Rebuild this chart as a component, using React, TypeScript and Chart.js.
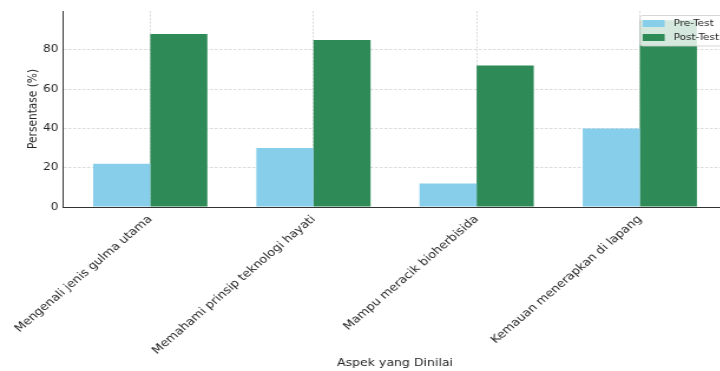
import React, { useEffect, useRef } from "react";
import { Chart, registerables } from "chart.js";

Chart.register(...registerables);

const categories = [
  "Mengenali jenis gulma utama",
  "Memahami prinsip teknologi hayati",
  "Mampu meracik bioherbisida",
  "Kemauan menerapkan di lapang",
];
const preTest = [22, 30, 12, 40];
const postTest = [88, 85, 72, 95];
const yTicks = [0, 20, 40, 60, 80];
const seriesNames = ["Pre-Test", "Post-Test"];
const seriesColors = ["#87CEEB", "#2E8B57"];

const FONT = "'DejaVu Sans', sans-serif";
const TEXT = "#262626";
// the reference picture is stretched horizontally; draw on a narrower canvas and stretch it
const SX = 1.18;
const CW = 630;
const CH = 371;

const legendPlugin = {
  id: "mplLegend",
  afterDraw(chart: any) {
    const ctx = chart.ctx;
    const left = 640.5 / SX;
    const top = 15.5;
    const right = 724 / SX;
    const bottom = 46;
    ctx.save();
    ctx.beginPath();
    const r = 2;
    ctx.moveTo(left + r, top);
    ctx.lineTo(right - r, top);
    ctx.quadraticCurveTo(right, top, right, top + r);
    ctx.lineTo(right, bottom - r);
    ctx.quadraticCurveTo(right, bottom, right - r, bottom);
    ctx.lineTo(left + r, bottom);
    ctx.quadraticCurveTo(left, bottom, left, bottom - r);
    ctx.lineTo(left, top + r);
    ctx.quadraticCurveTo(left, top, left + r, top);
    ctx.closePath();
    ctx.fillStyle = "rgba(255,255,255,0.8)";
    ctx.fill();
    ctx.strokeStyle = "rgba(204,204,204,0.8)";
    ctx.lineWidth = 1;
    ctx.stroke();
    ctx.font = `8.9px ${FONT}`;
    ctx.textBaseline = "middle";
    ctx.textAlign = "left";
    seriesNames.forEach((name, i) => {
      const cy = 23.5 + i * 14;
      ctx.fillStyle = seriesColors[i];
      ctx.fillRect(643 / SX, cy - 3.5, 22 / SX, 7);
      ctx.fillStyle = TEXT;
      ctx.fillText(name, 674 / SX, cy + 0.5);
    });
    ctx.restore();
  },
};

const noPadding = function (this: any) {
  this.paddingLeft = 0;
  this.paddingRight = 0;
  this.paddingTop = 0;
  this.paddingBottom = 0;
};

export default function App() {
  const ref = useRef<HTMLCanvasElement | null>(null);
  useEffect(() => {
    if (!ref.current) return;
    const chart = new Chart(ref.current, {
      type: "bar",
      data: {
        datasets: [
          {
            label: seriesNames[0],
            data: preTest.map((v, i) => ({ x: i, y: v })),
            backgroundColor: seriesColors[0],
            borderWidth: 0,
          },
          {
            label: seriesNames[1],
            data: postTest.map((v, i) => ({ x: i, y: v })),
            backgroundColor: seriesColors[1],
            borderWidth: 0,
          },
        ],
      },
      options: {
        responsive: false,
        animation: false,
        devicePixelRatio: 1,
        categoryPercentage: 0.7,
        barPercentage: 1,
        layout: { padding: { left: 0, top: 11, right: CW - 727.5 / SX, bottom: 0 } },
        plugins: {
          legend: { display: false },
          title: { display: false },
          tooltip: { enabled: false },
        },
        scales: {
          x: {
            type: "linear",
            offset: false,
            min: -0.535,
            max: 3.535,
            beforeFit: (s: any) => {
              s._calculatePadding = noPadding;
            },
            afterBuildTicks: (s: any) => {
              s.ticks = categories.map((_, i) => ({ value: i }));
            },
            afterFit: (s: any) => {
              s.height = 164;
              s.paddingLeft = 0;
              s.paddingRight = 0;
            },
            ticks: {
              autoSkip: false,
              minRotation: 45,
              maxRotation: 45,
              padding: 6,
              color: TEXT,
              font: { family: FONT, size: 10.8 },
              callback: (v: any) => categories[Math.round(Number(v))] ?? "",
            },
            grid: {
              offset: false,
              drawTicks: false,
              color: "rgba(190,190,190,0.7)",
              lineWidth: 0.8,
            },
            border: { display: true, color: "#333", width: 1, dash: [2.2, 1.3] },
            title: {
              display: true,
              text: "Aspek yang Dinilai",
              color: TEXT,
              font: { family: FONT, size: 10.6 },
              padding: { top: 0, bottom: 1.5 },
            },
          },
          y: {
            type: "linear",
            min: 0,
            max: 99.75,
            beforeFit: (s: any) => {
              s._calculatePadding = noPadding;
            },
            afterBuildTicks: (s: any) => {
              s.ticks = yTicks.map((v) => ({ value: v }));
            },
            afterFit: (s: any) => {
              s.width = 63 / SX;
              s.paddingTop = 0;
              s.paddingBottom = 0;
            },
            ticks: {
              padding: 4,
              color: TEXT,
              font: { family: FONT, size: 10.2 },
            },
            grid: {
              drawTicks: false,
              color: "rgba(190,190,190,0.7)",
              lineWidth: 0.8,
            },
            border: { display: true, color: "#333", width: 1, dash: [2.5, 1.5] },
            title: {
              display: true,
              text: "Persentase (%)",
              color: TEXT,
              font: { family: FONT, size: 10.6 },
              padding: { top: 21.5, bottom: 0 },
            },
          },
        },
      } as any,
      plugins: [legendPlugin],
    });
    return () => chart.destroy();
  }, []);
  return (
    <div
      style={{
        position: "fixed",
        left: 0,
        top: 0,
        width: 720,
        height: 371,
        overflow: "hidden",
        background: "#fff",
      }}
    >
      <canvas
        ref={ref}
        width={CW}
        height={CH}
        style={{ display: "block", width: `${CW * SX}px`, height: `${CH}px` }}
      />
    </div>
  );
}
